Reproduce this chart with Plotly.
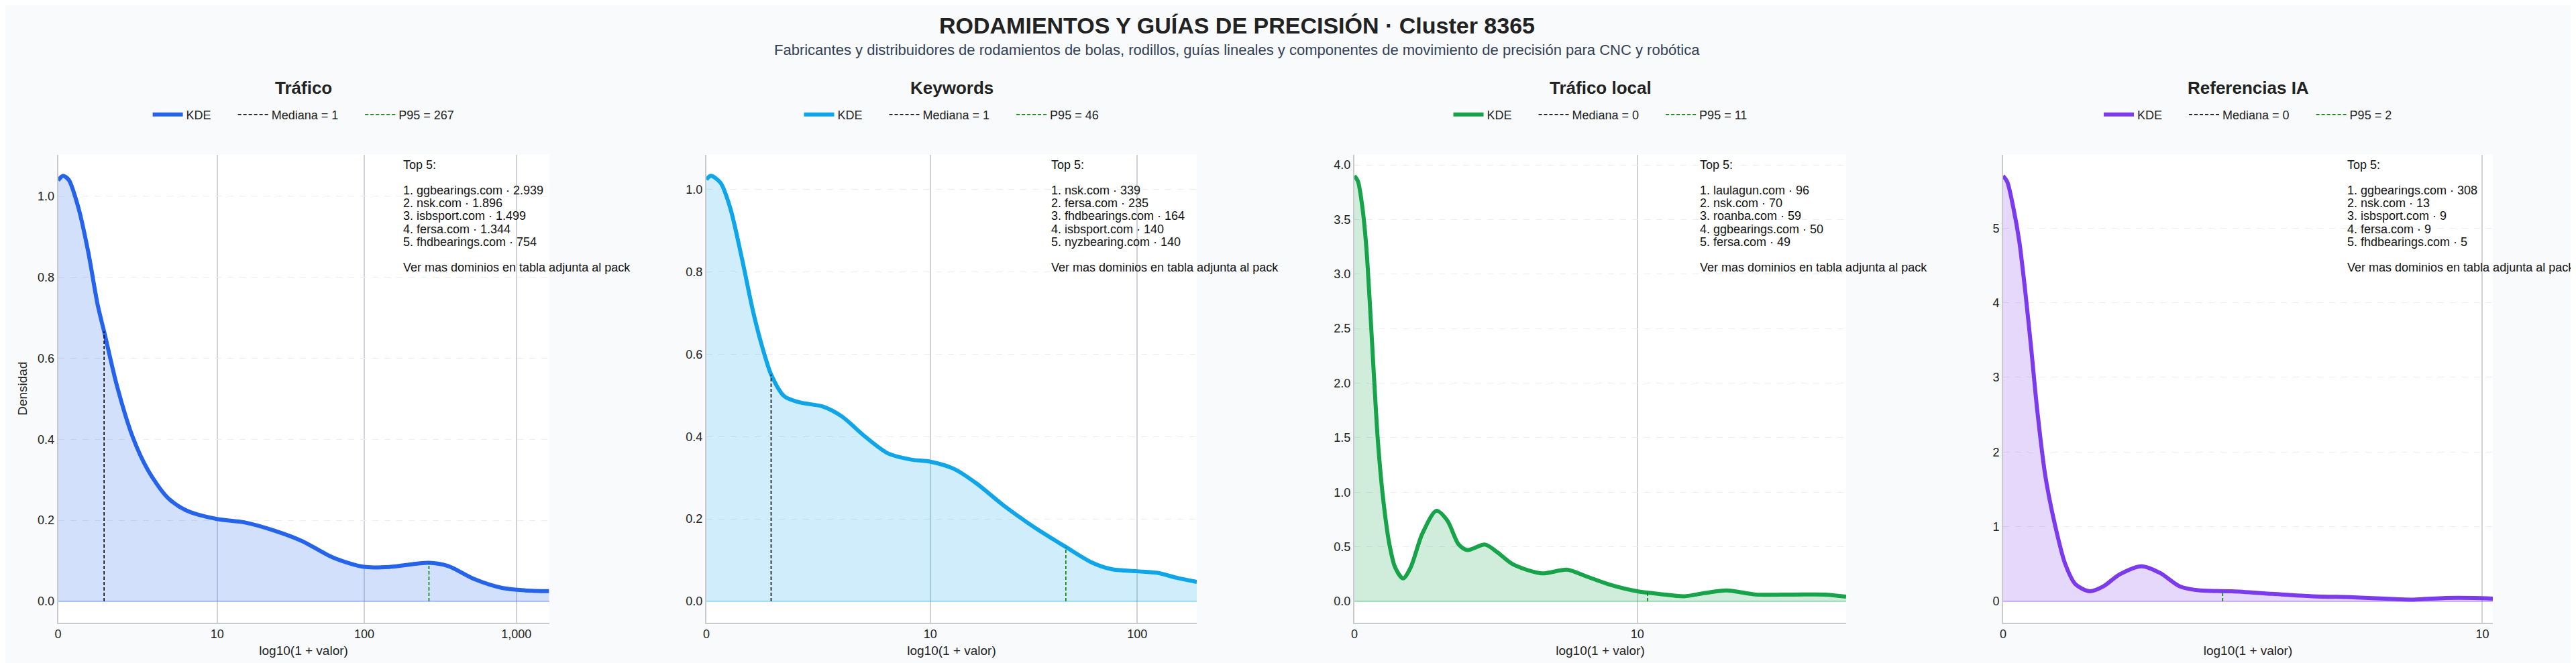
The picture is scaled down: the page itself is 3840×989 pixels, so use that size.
#
# Cluster 8365 - KDE de metricas por dominio (escala log10(1 + valor))
# Cuatro paneles en una fila, cada uno con su propia leyenda
import numpy as np
import plotly.graph_objects as go
from plotly.subplots import make_subplots

# Textos
titulo = "RODAMIENTOS Y GUÍAS DE PRECISIÓN · Cluster 8365"
subtitulo = ("Fabricantes y distribuidores de rodamientos de bolas, rodillos, guías lineales "
             "y componentes de movimiento de precisión para CNC y robótica")
metricas = ["Tráfico", "Keywords", "Tráfico local", "Referencias IA"]
nota = "Ver mas dominios en tabla adjunta al pack"

# Colores por metrica
colores = ["#2563eb", "#0ea5e9", "#16a34a", "#7c3aed"]

# Curvas KDE (x en log10(1 + valor))
trafico_x = [0.0, 0.033, 0.07, 0.134, 0.197, 0.26, 0.305, 0.386, 0.487, 0.588, 0.714,
             0.84, 1.041, 1.218, 1.42, 1.596, 1.80, 2.002, 2.176, 2.426, 2.554, 2.73,
             2.907, 3.058, 3.215]
trafico_kde = [1.039, 1.05, 1.04, 0.97, 0.863, 0.73, 0.66, 0.531, 0.407, 0.324, 0.257,
               0.224, 0.203, 0.195, 0.174, 0.149, 0.108, 0.085, 0.085, 0.095, 0.087, 0.054,
               0.033, 0.027, 0.025]

keywords_x = [0.0, 0.021, 0.066, 0.111, 0.165, 0.218, 0.263, 0.301, 0.362, 0.433, 0.541,
              0.63, 0.738, 0.845, 0.953, 1.042, 1.15, 1.257, 1.382, 1.525, 1.672, 1.794,
              1.884, 2.002, 2.098, 2.188, 2.281]
keywords_kde = [1.024, 1.033, 1.016, 0.955, 0.833, 0.702, 0.612, 0.551, 0.498, 0.483, 0.473,
                0.449, 0.40, 0.359, 0.344, 0.339, 0.322, 0.286, 0.233, 0.18, 0.132, 0.094,
                0.078, 0.073, 0.069, 0.057, 0.047]

local_x = [0.0, 0.013, 0.03, 0.044, 0.058, 0.072, 0.087, 0.108, 0.129, 0.15, 0.179, 0.207,
           0.25, 0.302, 0.342, 0.384, 0.416, 0.481, 0.526, 0.583, 0.689, 0.782, 0.852, 0.938,
           1.041, 1.122, 1.214, 1.292, 1.37, 1.477, 1.618, 1.731, 1.81]
local_kde = [3.9, 3.85, 3.6, 3.24, 2.68, 2.06, 1.45, 0.89, 0.52, 0.31, 0.21, 0.31,
             0.62, 0.83, 0.74, 0.52, 0.47, 0.52, 0.45, 0.34, 0.256, 0.29, 0.23, 0.154,
             0.092, 0.068, 0.046, 0.077, 0.10, 0.062, 0.062, 0.062, 0.043]

ia_x = [0.0, 0.009, 0.022, 0.035, 0.048, 0.061, 0.074, 0.092, 0.114, 0.135, 0.157, 0.188,
        0.218, 0.253, 0.301, 0.341, 0.384, 0.428, 0.498, 0.585, 0.672, 0.76, 0.83, 0.891,
        0.961, 1.022, 1.064]
ia_kde = [5.70, 5.62, 5.28, 4.83, 4.16, 3.39, 2.57, 1.67, 0.99, 0.50, 0.23, 0.135,
          0.20, 0.36, 0.47, 0.38, 0.20, 0.145, 0.135, 0.10, 0.068, 0.054, 0.036, 0.023,
          0.045, 0.045, 0.036]

curvas_x = [trafico_x, keywords_x, local_x, ia_x]
curvas_kde = [trafico_kde, keywords_kde, local_kde, ia_kde]

# Estadisticos (valores originales)
medianas = [1, 1, 0, 0]
p95s = [267, 46, 11, 2]

# Ticks del eje x (valores originales)
ticks_valor = [[0, 10, 100, 1000], [0, 10, 100], [0, 10], [0, 10]]

# Top 5 dominios por metrica
top5 = [
    [("ggbearings.com", "2.939"), ("nsk.com", "1.896"), ("isbsport.com", "1.499"),
     ("fersa.com", "1.344"), ("fhdbearings.com", "754")],
    [("nsk.com", "339"), ("fersa.com", "235"), ("fhdbearings.com", "164"),
     ("isbsport.com", "140"), ("nyzbearing.com", "140")],
    [("laulagun.com", "96"), ("nsk.com", "70"), ("roanba.com", "59"),
     ("ggbearings.com", "50"), ("fersa.com", "49")],
    [("ggbearings.com", "308"), ("nsk.com", "13"), ("isbsport.com", "9"),
     ("fersa.com", "9"), ("fhdbearings.com", "5")],
]

# Layout constants -------------------------------------------------------------
W, H = 3840, 989
FONT = "Arial, 'Liberation Sans', Helvetica, sans-serif"
x_doms = [(78.6, 810.6), (1045, 1776), (2011, 2744), (2978, 3708)]
y_dom = [1 - 920.7 / H, 1 - 222.6 / H]
y_dticks = [0.2, 0.2, 0.5, 1]
y_formats = [".1f", ".1f", ".1f", "d"]
PAD = "\u00a0" * 6   # aire extra entre items de la leyenda


def rgba(hexcol, a):
    h = hexcol.lstrip("#")
    return f"rgba({int(h[0:2],16)},{int(h[2:4],16)},{int(h[4:6],16)},{a})"


fig = make_subplots(rows=1, cols=4)

for i, m in enumerate(metricas):
    col = i + 1
    xs = np.array(curvas_x[i])
    ys = np.array(curvas_kde[i])
    c = colores[i]
    leg = "legend" if i == 0 else f"legend{i+1}"

    # Relleno bajo la curva
    fig.add_trace(go.Scatter(
        x=xs, y=ys, mode="lines", line=dict(width=0, shape="spline", smoothing=0.8),
        fill="tozeroy", fillcolor=rgba(c, 0.2), showlegend=False, hoverinfo="skip"),
        row=1, col=col)
    # Curva KDE
    fig.add_trace(go.Scatter(
        x=xs, y=ys, mode="lines", name="KDE" + PAD, legend=leg,
        line=dict(color=c, width=6, shape="spline", smoothing=0.8)),
        row=1, col=col)

    # Mediana y P95 como segmentos hasta la curva
    for val, nombre, lc in [(medianas[i], f"Mediana = {medianas[i]}" + PAD, "black"),
                            (p95s[i], f"P95 = {p95s[i]}", "green")]:
        lx = np.log10(1 + val)
        if val > 0:
            seg_x = [lx, lx]
            seg_y = [0, float(np.interp(lx, xs, ys))]
        else:
            seg_x, seg_y = [None], [None]
        fig.add_trace(go.Scatter(
            x=seg_x, y=seg_y, mode="lines", name=nombre, legend=leg,
            line=dict(color=lc, width=1.6, dash="5px,3px")),
            row=1, col=col)

    # Ejes
    tv = ticks_valor[i]
    x0, x1 = x_doms[i]
    fig.update_xaxes(
        domain=[x0 / W, x1 / W], range=[0, xs.max()],
        tickvals=np.log10(1 + np.array(tv)), ticktext=[f"{v:,}" for v in tv],
        showgrid=True, gridcolor="#cfd2d6", gridwidth=1.5,
        showline=True, linecolor="#c8cacd", linewidth=2, mirror=False,
        zeroline=False, ticks="", automargin=False,
        tickfont=dict(size=18, color="#222"),
        title=dict(text="log10(1 + valor)", font=dict(size=19, color="#222"), standoff=8),
        row=1, col=col)
    ymax = ys.max()
    fig.update_yaxes(
        domain=y_dom, range=[-0.05 * ymax, 1.05 * ymax],
        tick0=0, dtick=y_dticks[i], tickformat=y_formats[i],
        showgrid=True, gridcolor="#ebedf0", gridwidth=1, griddash="dash",
        showline=True, linecolor="#c8cacd", linewidth=2, mirror=False,
        zeroline=True, zerolinecolor=rgba(c, 0.35), zerolinewidth=1.5,
        ticks="", automargin=False,
        tickfont=dict(size=18, color="#222"),
        row=1, col=col)

    # Leyenda propia de cada panel
    fig.update_layout({leg: dict(
        orientation="h", x=(x0 + x1) / 2 / W, xanchor="center",
        y=1 - 163 / H, yanchor="middle", bgcolor="rgba(0,0,0,0)",
        itemwidth=45, font=dict(size=18, color="#222"))})

    # Titulo del panel
    fig.add_annotation(
        text=f"<b>{m}</b>", xref="paper", yref="paper",
        x=(x0 + x1) / 2 / W, y=1 - 123 / H, xanchor="center", yanchor="middle",
        showarrow=False, font=dict(size=26, color="#222"))

    # Caja de texto Top 5
    lineas = ["Top 5:", ""] + [f"{k+1}. {d} · {v}" for k, (d, v) in enumerate(top5[i])] + ["", nota]
    xr = "x domain" if i == 0 else f"x{col} domain"
    yr = "y domain" if i == 0 else f"y{col} domain"
    for j, txt in enumerate(lineas):
        if not txt:
            continue
        fig.add_annotation(
            text=txt, xref=xr, yref=yr, x=0.70, y=1, xanchor="left", yanchor="middle",
            yshift=-(15 + 19.2 * j), showarrow=False, align="left",
            font=dict(size=18, color="#111"))

fig.update_yaxes(title=dict(text="Densidad", font=dict(size=19, color="#222"), standoff=10),
                 row=1, col=1)

# Titulo general y subtitulo
fig.add_annotation(
    text=f"<b>{titulo}</b>", xref="paper", yref="paper", x=1836 / W, y=1 - 30 / H,
    xanchor="center", yanchor="middle", showarrow=False,
    font=dict(size=34, color="#222"))
fig.add_annotation(
    text=subtitulo, xref="paper", yref="paper", x=1836 / W, y=1 - 67 / H,
    xanchor="center", yanchor="middle", showarrow=False,
    font=dict(size=22, color="#334155"))

fig.update_layout(
    width=W, height=H,
    paper_bgcolor="#f8fafc", plot_bgcolor="white",
    margin=dict(l=0, r=0, t=0, b=0),
    font=dict(family=FONT, color="#222"),
    hovermode=False,
)

fig.write_html("out.html")
